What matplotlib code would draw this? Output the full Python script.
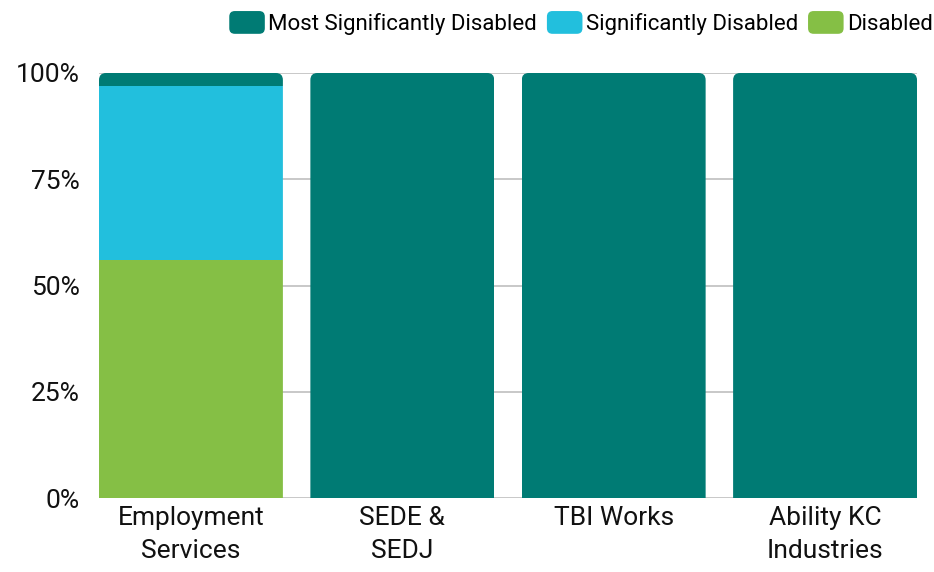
import matplotlib
matplotlib.use("Agg")
import matplotlib.pyplot as plt
from matplotlib.patches import FancyBboxPatch, Patch
from matplotlib.legend_handler import HandlerPatch

plt.rcParams["font.family"] = ["Roboto", "DejaVu Sans"]

categories = ["Employment\nServices", "SEDE &\nSEDJ", "TBI Works", "Ability KC\nIndustries"]
series_names = ["Disabled", "Significantly Disabled", "Most Significantly Disabled"]
disabled = [56, 0, 0, 0]
significantly = [41, 0, 0, 0]
most_significantly = [3, 100, 100, 100]
y_ticks = [0, 25, 50, 75, 100]

COLORS = {
    "Disabled": "#85BF45",
    "Significantly Disabled": "#22BFDD",
    "Most Significantly Disabled": "#007B74",
}

fig = plt.figure(figsize=(9.34, 5.72), dpi=100)
ax = fig.add_axes([99 / 934, 74 / 572, 818 / 934, 425 / 572])

width = 0.87
x = list(range(len(categories)))
ax.set_xlim(-width / 2, len(categories) - 1 + width / 2)
ax.set_ylim(0, 100)

# rounding radius in pixels converted to data units
radius_px = 7
xu = radius_px / (818 / (len(categories) - 1 + width))
yu = radius_px / (425 / 100)

bottom = [0] * len(categories)
for name, vals in zip(series_names, [disabled, significantly, most_significantly]):
    bars = ax.bar(x, vals, width=width, bottom=bottom, color=COLORS[name],
                  linewidth=0, zorder=3)
    for i, b in enumerate(bars):
        clip = FancyBboxPatch((x[i] - width / 2, -10), width, 110,
                              boxstyle=f"round,pad=0,rounding_size={xu}",
                              mutation_aspect=yu / xu, transform=ax.transData,
                              facecolor="none", edgecolor="none")
        b.set_clip_path(clip)
    bottom = [b0 + v for b0, v in zip(bottom, vals)]

ax.set_yticks(y_ticks)
ax.set_yticklabels([f"{t}%" for t in y_ticks])
ax.set_xticks(x)
ax.set_xticklabels(categories, linespacing=1.45)
ax.tick_params(axis="y", length=0, pad=14, labelsize=19, colors="#111111")
ax.tick_params(axis="x", length=0, pad=6, labelsize=19, colors="#111111")
for s in ax.spines.values():
    s.set_visible(False)
ax.yaxis.grid(True, color="#BFBFBF", linewidth=1.2, zorder=0)
ax.set_axisbelow(True)


class RoundHandler(HandlerPatch):
    def create_artists(self, legend, orig_handle, xdescent, ydescent, width, height, fontsize, trans):
        p = FancyBboxPatch((-xdescent, -ydescent), width, height,
                           boxstyle="round,pad=0,rounding_size=4",
                           facecolor=orig_handle.get_facecolor(), edgecolor="none",
                           transform=trans)
        return [p]


handles = [Patch(facecolor=COLORS[n], edgecolor="none", label=n)
           for n in ["Most Significantly Disabled", "Significantly Disabled", "Disabled"]]
fig.legend(handles=handles, loc="upper right", bbox_to_anchor=(1.013, 1.004), ncol=3,
           frameon=False, fontsize=16, handlelength=1.6, handleheight=1.2,
           handletextpad=0.15, columnspacing=0.45, borderaxespad=0.2,
           handler_map={Patch: RoundHandler()})

fig.savefig("out.png", dpi=100, facecolor="white")
